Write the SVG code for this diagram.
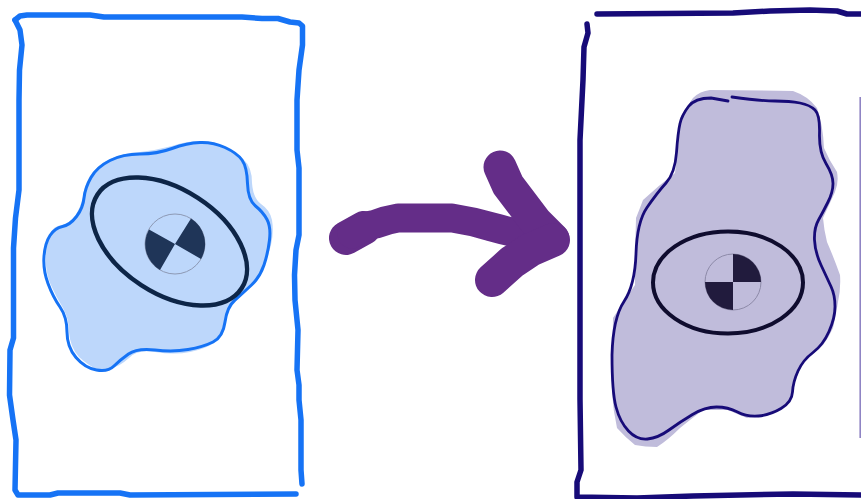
<svg xmlns="http://www.w3.org/2000/svg" width="861" height="499" viewBox="0 0 861 499">
<style>
.ln{fill:none;stroke-linecap:round;stroke-linejoin:round}
.blue{stroke:#1673f5}
.navy{stroke:#170b78}
.rect{stroke-width:5.5}
.outline-b{stroke-width:3}
.outline-n{stroke-width:2.8}
.arrow{fill:none;stroke:#642d88;stroke-linecap:round;stroke-linejoin:round}
.ring{fill:none;stroke-width:1}
</style>
<rect width="861" height="499" fill="#ffffff"/>
<g id="panel-before">
<path class="ln blue rect" d="M15,20 L20,16 L27,15 L90,15 L104,17 L242,17 L262,18.5 L278,18.5 L290,22 L299,23 L302.5,26 L302.5,45 L299,70 L297,100 L297,150 L299,168 L299,235 L296,250 L294.5,275 L295,300 L298,330 L297,370 L299,385 L299,400 L301,420 L301,470 L302,484"/>
<path class="ln blue rect" d="M296,494 L130,495 L120,493 L58,493 L50,495 L18,495 L15,490 L16,440 L13,420 L9.5,395 L10,350 L13.5,338 L13.5,248 L15.5,218 L19,190 L19,100 L19.5,70 L22,45 L20,30 L15,20"/>
</g>
<g id="blob-before">
<path fill="#bdd7fb" d="M140,152 Q157,150 172,146 Q187,141 200,141 Q213,142 225,147 Q237,152 244,160 Q252,167 252,183 Q253,198 261,204 Q270,210 272,220 Q274,232 271,245 Q268,256 264,267 Q260,279 251,286 Q243,295 235,301 Q228,308 226,322 Q224,337 214,343 Q205,349 190,352 Q175,355 155,352 Q137,349 129,358 Q120,366 112,368 Q104,372 96,369 Q88,365 79,357 Q70,347 69,332 Q69,319 63,308 Q56,297 50,283 Q45,270 46,256 Q46,243 50,234 Q53,226 62,225 Q70,223 76,215 Q81,206 83,197 Q84,186 90,176 Q97,165 110,159 Q123,153 140,152 Z"/>
<path class="ln blue outline-b" d="M140,154 Q157,154 172,148.5 Q187,143 200,142.5 Q213,142 225,147.5 Q237,153 242,160 Q247,167 247.5,183.5 Q248,200 255.5,206 Q263,212 267,219.5 Q271,227 269.5,240 Q268,253 264,265 Q260,277 251.5,285 Q243,293 235,300 Q227,307 225,322 Q223,337 213,342 Q203,347 188,349.5 Q173,352 155,350 Q137,348 128.5,354 Q120,360 114,366 Q108,372 96.5,370 Q85,368 76,357.5 Q67,347 67,332 Q67,317 60,307 Q53,297 48,283.5 Q43,270 44,256.5 Q45,243 50,235.5 Q55,228 62.5,226.5 Q70,225 76.5,216.5 Q83,208 84,198 Q85,188 91,177.5 Q97,167 110,160.5 Q123,154 140,154 Z"/>
<ellipse cx="169.5" cy="241.500" rx="86" ry="52" transform="rotate(33 169.5 241.500)" fill="none" stroke="#0d2547" stroke-width="4.500"/>
<circle class="ring" cx="175" cy="244" r="30" stroke="#8d99b4"/>
<path fill="#1f3558" d="M175,244 L191,218.500 A30,30 0 0 1 201,259 Z M175,244 L149,229.500 A30,30 0 0 0 160,270 Z"/>
</g>
<g id="connectors">
<path class="arrow" stroke-width="34" d="M346,238 L364,228"/>
<path class="arrow" stroke-width="29" d="M352,234 Q362,226 376,224 Q386,220 398,218 L452,218 Q472,221 492,227 Q520,235 553,239"/>
<path class="arrow" stroke-width="33" d="M500,167 L508,185 L536,222 L553,239"/>
<path class="arrow" stroke-width="34" d="M492,280 L512,262 L530,250 L553,240"/>
</g>
<g id="panel-after">
<path class="ln navy rect" d="M597,14 L733,13 L770,11 L810,10 L837,11 L847,14 L863,14"/>
<path class="ln navy rect" d="M587,24 L588,33 L584,47 L583,80 L580,140 L580,399 L581,470 L577,482 L577,497 L637,498 L693,496 L793,494 L863,495"/>
</g>
<g id="blob-after">
<path fill="#c0bcdb" d="M710,90 Q752,90 793,91 Q808,96 817,108 Q823,125 824,148 Q829,160 837,172 Q839,182 835,192 Q829,205 823,218 Q824,230 827,242 Q834,258 840,275 Q841,288 838,302 Q836,315 833,328 Q829,337 823,345 Q813,354 803,362 Q798,372 795,382 Q793,396 787,405 Q779,409 770,413 Q758,418 747,418 Q737,414 728,410 Q715,410 703,410 Q691,419 680,428 Q668,440 657,447 Q645,447 635,445 Q625,437 617,428 Q613,410 612,392 L613,318 Q624,301 635,285 Q635,250 636,218 Q640,208 643,200 Q658,186 675,173 Q679,145 680,118 Q686,107 693,98 Q700,91 710,90 Z"/>
<path class="ln navy outline-n" d="M732,97 Q760,101 775,101 Q790,101 800,103 Q810,105 815,110 Q820,115 819.500,133.500 Q819,152 826,163.500 Q833,175 833,183.500 Q833,192 828,202 Q823,212 818.500,220 Q814,228 814.500,240 Q815,252 821,265 Q827,278 831,286.500 Q835,295 835,306.500 Q835,318 829,331.500 Q823,345 813,352.500 Q803,360 798,371 Q793,382 792.500,392 Q792,402 781,408.500 Q770,415 758.500,416 Q747,417 737.500,412 Q728,407 716.500,407 Q705,407 692.500,414.500 Q680,422 669,430 Q658,438 647.500,439 Q637,440 628.500,431 Q620,422 616,407 Q612,392 612,355 Q613,318 624,301.500 Q635,285 636,253.500 Q637,222 647,207.500 Q657,193 666,183 Q675,173 676.500,152.500 Q678,132 680,123.500 Q682,115 688.500,106.500 Q695,98 711,98 L728,101"/>
<ellipse cx="728" cy="282.500" rx="75" ry="51" fill="none" stroke="#0f0c2e" stroke-width="4"/>
<circle class="ring" cx="733" cy="282" r="28" stroke="#8d8aa8"/>
<path fill="#211b3d" d="M733,282 L733,254 A28,28 0 0 1 761,282 Z M733,282 L733,310 A28,28 0 0 1 705,282 Z"/>
</g>
<g id="edge-strip">
<line x1="860.200" y1="97" x2="860.200" y2="438" stroke="#8f84c4" stroke-width="1.600"/>
</g>
</svg>
